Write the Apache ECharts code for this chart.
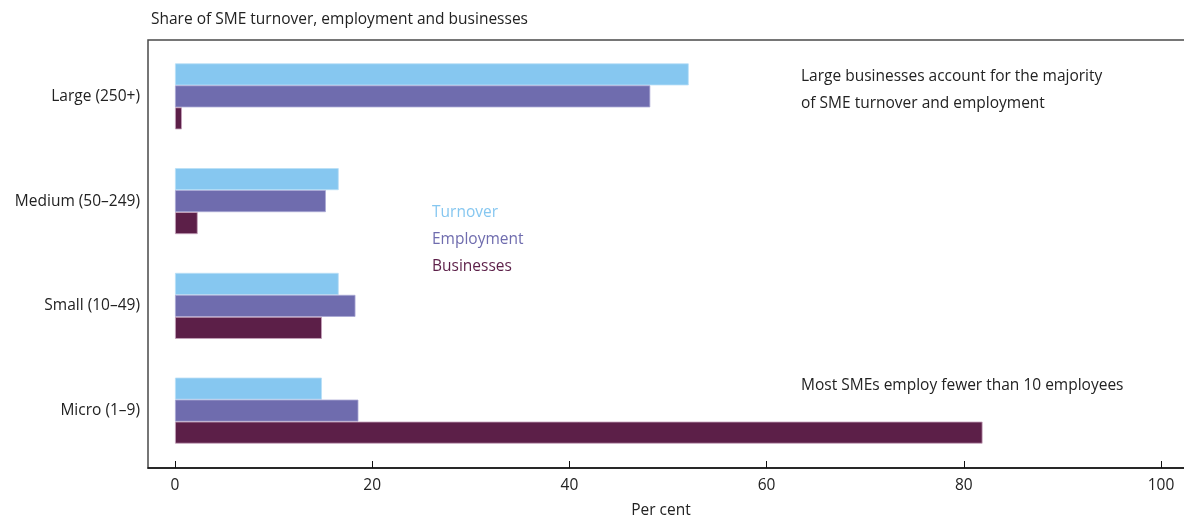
<!DOCTYPE html>
<html>
<head>
<meta charset="utf-8">
<script src="https://cdn.jsdelivr.net/npm/echarts@6/dist/echarts.min.js"></script>
<style>html,body{margin:0;padding:0;background:#fff;overflow:hidden;width:1184px;height:524px;}#c{width:1204px;height:524px;}</style>
</head>
<body>
<div id="c"></div>
<script>
const categories = ['Large (250+)', 'Medium (50\u2013249)', 'Small (10\u201349)', 'Micro (1\u20139)'];
const seriesNames = ['Turnover', 'Employment', 'Businesses'];
const turnover = [52.1, 16.6, 16.6, 14.9];
const employment = [48.2, 15.3, 18.3, 18.6];
const businesses = [0.7, 2.3, 14.9, 81.9];
const xTicks = [0, 20, 40, 60, 80, 100];
const colors = ['#86C7F0', '#6F6CAE', '#5C1F48'];
const borders = ['#b9def6', '#a9a8d4', '#c7a3bd'];
const FONT = '"Open Sans", "Noto Sans", sans-serif';
const FS = 15.5;
const X_MIN = -2.74, X_MAX = 104.36;

const chart = echarts.init(document.getElementById('c'), null, {renderer: 'canvas'});
const seriesData = [turnover, employment, businesses];
chart.setOption({
  animation: false,
  textStyle: {fontFamily: FONT},
  title: {
    text: 'Share of SME turnover, employment and businesses',
    left: 146, top: 7,
    textStyle: {fontFamily: FONT, fontSize: FS, fontWeight: 'normal', color: '#222'}
  },
  legend: {
    orient: 'vertical',
    left: 422, top: 198,
    icon: 'none',
    itemWidth: 0, itemHeight: 20, itemGap: 7,
    selectedMode: false,
    textStyle: {fontFamily: FONT, fontSize: FS, lineHeight: 20},
    data: seriesNames.map((n, i) => ({name: n, textStyle: {color: colors[i]}}))
  },
  grid: [
    {show: true, left: 148, right: 0, top: 40, bottom: 52, borderColor: '#4a4a4a', borderWidth: 1.5, backgroundColor: 'transparent'},
    {left: 148, right: 0, top: 44, bottom: 61}
  ],
  xAxis: [
    {
      gridIndex: 0, type: 'value', min: X_MIN, max: X_MAX,
      position: 'bottom',
      splitLine: {show: false},
      axisLine: {show: true, lineStyle: {color: '#111', width: 1.5}},
      axisTick: {show: true, inside: true, length: 7, customValues: xTicks, lineStyle: {color: '#111', width: 1}},
      axisLabel: {customValues: xTicks, fontFamily: FONT, fontSize: FS, color: '#222', margin: 10},
      name: 'Per cent', nameLocation: 'middle', nameGap: 35,
      nameTextStyle: {fontFamily: FONT, fontSize: FS, color: '#222', padding: [0, 30, 0, 0]}
    },
    {gridIndex: 1, type: 'value', min: X_MIN, max: X_MAX, show: false}
  ],
  yAxis: [
    {gridIndex: 0, type: 'value', min: 0, max: 1, show: false},
    {
      gridIndex: 1, type: 'category', data: categories, inverse: true,
      axisLine: {show: false}, axisTick: {show: false},
      axisLabel: {fontFamily: FONT, fontSize: FS, color: '#222', margin: 8}
    }
  ],
  series: seriesNames.map((n, i) => ({
    name: n, type: 'bar', xAxisIndex: 1, yAxisIndex: 1,
    data: seriesData[i],
    barWidth: 22, barGap: '0%',
    itemStyle: {color: colors[i], borderColor: borders[i], borderWidth: 0.8},
    emphasis: {disabled: true}
  })),
  graphic: [
    {type: 'text', left: 801, top: 63, style: {text: 'Large businesses account for the majority\nof SME turnover and employment', font: FS + 'px ' + FONT, fill: '#222', lineHeight: 27}},
    {type: 'text', left: 801, top: 376, style: {text: 'Most SMEs employ fewer than 10 employees', font: FS + 'px ' + FONT, fill: '#222', lineHeight: 20}}
  ]
});
</script>
</body>
</html>
